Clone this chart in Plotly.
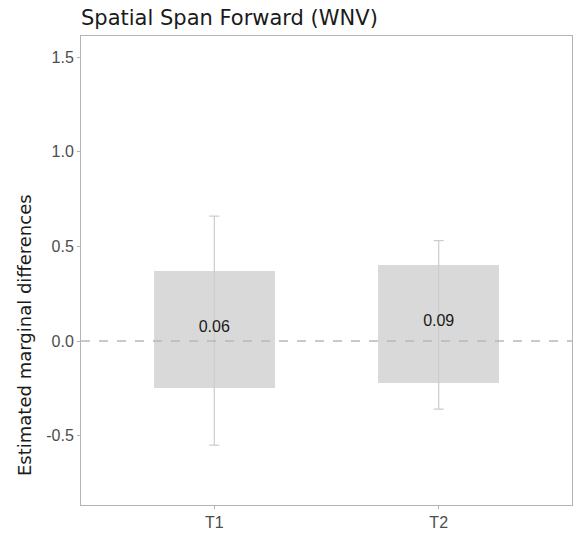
import plotly.graph_objects as go

categories = ["T1", "T2"]
estimates = [0.06, 0.09]
box_low = [-0.25, -0.22]
box_high = [0.37, 0.40]
err_low = [-0.55, -0.36]
err_high = [0.66, 0.53]
labels = ["0.06", "0.09"]
y_ticks = [-0.5, 0.0, 0.5, 1.0, 1.5]
y_tick_text = ["-0.5", "0.0", "0.5", "1.0", "1.5"]

sans = "Liberation Sans, Arial, Helvetica, sans-serif"
tick_font = dict(family=sans, size=16, color="#4d4d4d")

W, H = 578, 533
L, R, T, B = 81, 6, 36, 28
plot_w = W - L - R
plot_h = H - T - B

fig = go.Figure()
fig.add_trace(go.Bar(
    x=categories,
    y=[h - l for h, l in zip(box_high, box_low)],
    base=box_low,
    width=0.54,
    marker=dict(color="#d9d9d9", line=dict(width=0)),
    hoverinfo="skip",
    showlegend=False,
))
fig.add_trace(go.Scatter(
    x=categories,
    y=estimates,
    mode="markers",
    marker=dict(size=1, color="rgba(0,0,0,0)"),
    error_y=dict(
        type="data",
        symmetric=False,
        array=[h - e for h, e in zip(err_high, estimates)],
        arrayminus=[e - l for e, l in zip(estimates, err_low)],
        color="#cdcdcd",
        thickness=1.2,
        width=5,
    ),
    showlegend=False,
    hoverinfo="skip",
))
fig.add_hline(y=0, line=dict(color="#b8b8b8", width=1.6, dash="dash"))
fig.add_trace(go.Scatter(
    x=categories,
    y=[e + 0.008 for e in estimates],
    mode="text",
    text=labels,
    textfont=dict(family=sans, size=16, color="#1a1a1a"),
    showlegend=False,
    hoverinfo="skip",
))

fig.add_annotation(
    text="Estimated marginal differences",
    xref="paper", yref="paper",
    x=(24 - L) / plot_w, y=(H - B - 335) / plot_h,
    xanchor="center", yanchor="middle",
    textangle=-90,
    showarrow=False,
    font=dict(family="DejaVu Sans", size=18, color="#1a1a1a"),
)

fig.update_layout(
    width=W,
    height=H,
    margin=dict(l=L, r=R, t=T, b=B, autoexpand=False),
    plot_bgcolor="white",
    paper_bgcolor="white",
    bargap=0,
    title=dict(
        text="Spatial Span Forward (WNV)",
        x=L / W,
        xanchor="left",
        y=1 - 18 / H,
        yanchor="middle",
        font=dict(family="DejaVu Sans", size=21, color="#1a1a1a"),
    ),
    xaxis=dict(
        range=[-0.594, 1.594],
        automargin=False,
        showgrid=False,
        zeroline=False,
        showline=True,
        mirror=True,
        linecolor="#b3b3b3",
        linewidth=1,
        ticks="outside",
        ticklen=3,
        tickcolor="#b3b3b3",
        tickfont=tick_font,
    ),
    yaxis=dict(
        range=[-0.866, 1.611],
        automargin=False,
        tickvals=y_ticks,
        ticktext=y_tick_text,
        showgrid=False,
        zeroline=False,
        showline=True,
        mirror=True,
        linecolor="#b3b3b3",
        linewidth=1,
        ticks="outside",
        ticklen=3,
        tickcolor="#b3b3b3",
        tickfont=tick_font,
    ),
)

fig.write_html("out.html")
